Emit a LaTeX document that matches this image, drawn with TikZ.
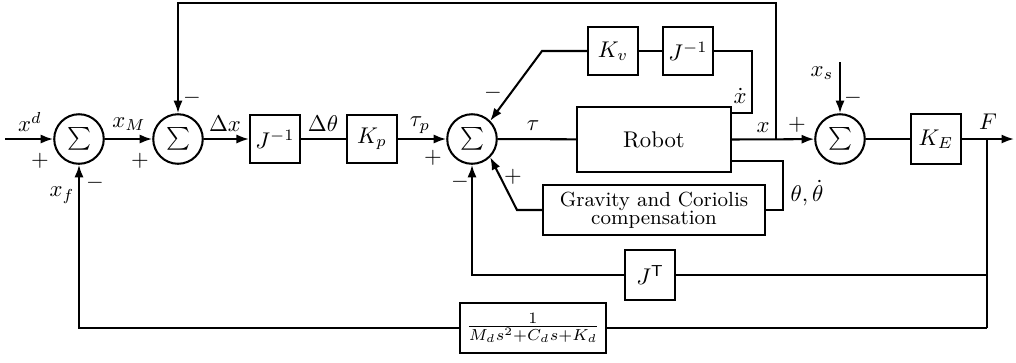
\documentclass[tikz,border=0pt]{standalone}
\usetikzlibrary{arrows.meta}
\begin{document}
\begin{tikzpicture}[x=0.44pt,y=-0.44pt,
  sig/.style={line width=0.9pt},
  arr/.style={sig,-{Latex[length=5.5pt,width=4pt]}},
  blk/.style={draw,line width=0.9pt,minimum width=22pt,minimum height=21.5pt,inner sep=1pt},
  sumn/.style={draw,circle,line width=0.9pt,minimum size=21.8pt,inner sep=0pt},
  lab/.style={inner sep=0pt}]
\useasboundingbox (0,0) rectangle (1016,362);
% summing junctions
\node[sumn] (c1) at (79,139) {$\sum$};
\node[sumn] (c2) at (178,139) {$\sum$};
\node[sumn] (c3) at (472,139) {$\sum$};
\node[sumn] (c4) at (840,139) {$\sum$};
% blocks
\node[blk] (j1) at (275,139) {$J^{-1}$};
\node[blk] (kp) at (372,139) {$K_p$};
\node[blk,minimum width=67.8pt,minimum height=28.6pt] (robot) at (654,139.5) {Robot};
\node[blk] (kv) at (613,51) {$K_v$};
\node[blk] (jinv2) at (688,51) {$J^{-1}$};
\node[blk,minimum width=97.7pt,minimum height=22pt,align=center,font={\fontsize{9}{7.8}\selectfont}] (grav) at (654,210) {Gravity and Coriolis\\compensation};
\node[blk,minimum width=22.4pt,minimum height=22pt] (jt) at (650,275) {$J^{\mathsf{T}}$};
\node[blk,minimum width=64.6pt,minimum height=22pt] (frac) at (533,328) {$\frac{1}{M_ds^2+C_ds+K_d}$};
\node[blk,minimum width=22.4pt,minimum height=22.4pt] (ke) at (936,139) {$K_E$};
% coordinates
\coordinate (in) at (5,139);
\coordinate (xj) at (776,139);
\coordinate (top) at (776,3);
\coordinate (xs) at (840,62);
\coordinate (fj) at (987,139);
\coordinate (out) at (1014,139);
\coordinate (fjt) at (987,275);
\coordinate (fb) at (987,328);
\coordinate (xd1) at (752,113);
\coordinate (kvd) at (542,51);
\coordinate (th1) at (783,161);
\coordinate (gd) at (517,210);
% main path
\draw[arr] (in) -- (c1);
\draw[arr] (c1) -- (c2);
\draw[arr] (c2) -- (j1);
\draw[sig] (j1) -- (kp);
\draw[arr] (kp) -- (c3);
\draw[sig] (c3) -- (robot);
\draw[arr] (robot.east) -- (c4);
\draw[arr] (xj) -- (top) -| (c2);
\draw[arr] (xs) -- (c4);
\draw[sig] (c4) -- (ke);
\draw[arr] (ke) -- (out);
\draw[sig] (fj) -- (fb);
\draw[sig] (fjt) -- (jt);
\draw[arr] (jt) -| (c3);
\draw[sig] (fb) -- (frac);
\draw[arr] (frac) -| (c1);
\draw[sig] (robot.east |- xd1) -- (xd1) |- (jinv2);
\draw[sig] (jinv2) -- (kv);
\draw[arr] (kv) -- (kvd) -- (c3.north east);
\draw[sig] (robot.east |- th1) -- (th1) |- (grav);
\draw[arr] (grav) -- (gd) -- (c3.south east);
% labels
\node[lab] (lxd) at (30,122) {$x^d$};
\node[lab] (lp1) at (40,161) {$+$};
\node[lab] (lxf) at (62,195) {$x_f$};
\node[lab] (lm1) at (95,183) {$-$};
\node[lab] (lxm) at (129,124) {$x_M$};
\node[lab] (lp2) at (140,161) {$+$};
\node[lab] (lm2) at (192,98) {$-$};
\node[lab] (ldx) at (225,124) {$\Delta x$};
\node[lab] (ldt) at (323,124) {$\Delta\theta$};
\node[lab] (ltp) at (420,125) {$\tau_p$};
\node[lab] (lp3) at (433,158) {$+$};
\node[lab] (lm3) at (460,182) {$-$};
\node[lab] (lp4) at (513,177) {$+$};
\node[lab] (lm4) at (493,93) {$-$};
\node[lab] (ltau) at (533,126) {$\tau$};
\node[lab] (lxdot) at (740,96) {$\dot x$};
\node[lab] (lx) at (763,128) {$x$};
\node[lab] (lp5) at (797,125) {$+$};
\node[lab] (lxs) at (822,73) {$x_s$};
\node[lab] (lm5) at (853,98) {$-$};
\node[lab] (lF) at (988,122) {$F$};
\node[lab] (lth) at (807,193) {$\theta,\dot\theta$};
\end{tikzpicture}
\end{document}
